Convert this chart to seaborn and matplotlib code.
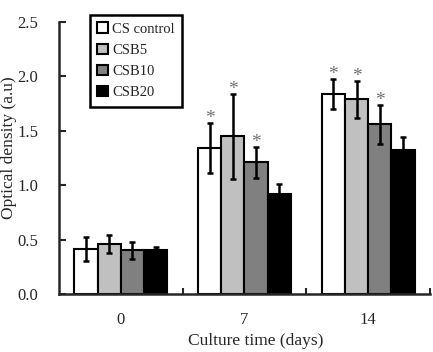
import pandas as pd
import seaborn as sns
import matplotlib.pyplot as plt
from matplotlib.ticker import FixedLocator

# Values
days = ["0", "7", "14"]
groups = ["CS control", "CSB5", "CSB10", "CSB20"]
cs_control = [0.41, 1.34, 1.84]
csb5 = [0.46, 1.45, 1.79]
csb10 = [0.40, 1.21, 1.56]
csb20 = [0.40, 0.92, 1.32]
err_cs_control = [0.11, 0.23, 0.14]
err_csb5 = [0.08, 0.39, 0.17]
err_csb10 = [0.08, 0.14, 0.18]
err_csb20 = [0.03, 0.09, 0.12]
# significance markers (1 = asterisk)
sig_cs_control = [0, 1, 1]
sig_csb5 = [0, 1, 1]
sig_csb10 = [0, 1, 1]
sig_csb20 = [0, 0, 0]

colors = ["white", "#c0c0c0", "#808080", "black"]

values = [cs_control, csb5, csb10, csb20]
errors = [err_cs_control, err_csb5, err_csb10, err_csb20]
sigs = [sig_cs_control, sig_csb5, sig_csb10, sig_csb20]

df = pd.DataFrame({
    "day": days * len(groups),
    "group": [g for g in groups for _ in days],
    "od": [v for vals in values for v in vals],
})

sns.set_style("ticks")
plt.rcParams["font.family"] = ["Liberation Serif", "DejaVu Serif"]

fig = plt.figure(figsize=(4.33, 3.52), dpi=100)
ax = fig.add_axes([0.136, 0.165, 0.857, 0.7727])

sns.barplot(data=df, x="day", y="od", hue="group", order=days, hue_order=groups,
            palette=colors, errorbar=None, width=0.75, edgecolor="black",
            linewidth=1.5, ax=ax)

# error bars and asterisks on top of each bar
for container, errs, sg in zip(ax.containers, errors, sigs):
    for bar, e, s in zip(container, errs, sg):
        x = bar.get_x() + bar.get_width() / 2
        h = bar.get_height()
        ax.errorbar(x, h, yerr=e, fmt="none", ecolor="black", elinewidth=1.8,
                    capsize=2.5, capthick=1.8, zorder=5)
        if s:
            ax.text(x, h + e - 0.04, "*", ha="center", va="bottom",
                    fontsize=14, color="#707070")

ax.set_ylim(0, 2.5)
ax.set_xlim(-0.5, 2.5)
ax.set_yticks([0, 0.5, 1.0, 1.5, 2.0, 2.5])
ax.set_yticklabels(["0.0", "0.5", "1.0", "1.5", "2.0", "2.5"])
ax.tick_params(axis="y", direction="in", length=5, width=1.5, pad=15, labelsize=12)
ax.tick_params(axis="x", which="major", length=0, pad=13, labelsize=12)
ax.xaxis.set_minor_locator(FixedLocator([0.5, 1.5, 2.5]))
ax.tick_params(axis="x", which="minor", direction="in", length=4, width=1.5)

sns.despine(ax=ax)
for side in ["left", "bottom"]:
    ax.spines[side].set_linewidth(1.8)

ax.set_xlabel("Culture time (days)", fontsize=12.5)
ax.set_ylabel("Optical density (a.u)", fontsize=12.5)
ax.xaxis.set_label_coords(0.53, -0.145)
ax.yaxis.set_label_coords(-0.112, 0.537)

leg = ax.legend(loc="upper left", bbox_to_anchor=(0.084, 1.025), borderaxespad=0,
                frameon=True, fancybox=False, edgecolor="black", fontsize=10.5,
                handlelength=0.7, handleheight=0.7, handletextpad=0.3,
                labelspacing=0.55, borderpad=0.5)
leg.get_frame().set_linewidth(1.8)
leg.get_frame().set_alpha(1)

plt.savefig("out.png", dpi=100)
